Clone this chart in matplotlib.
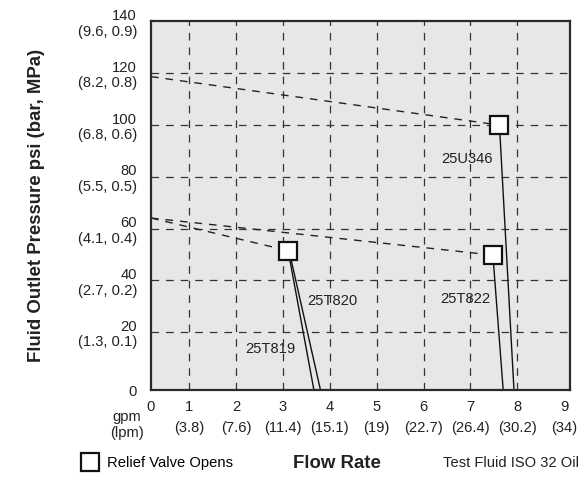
import matplotlib.pyplot as plt
from matplotlib.lines import Line2D

plt.rcParams['font.family'] = ['Liberation Sans', 'DejaVu Sans']
plt.rcParams['lines.scale_dashes'] = False

#--- DATA (in grid coordinates)

# axis extents as drawn in the original chart
X_LO, X_HI = 0.183, 9.125
Y_LO, Y_HI = -2.3, 140.3

gpm_ticks = [0, 1, 2, 3, 4, 5, 6, 7, 8, 9]
lpm_labels = ['', '3.8', '7.6', '11.4', '15.1', '19', '22.7', '26.4', '30.2', '34']
psi_ticks = [0, 20, 40, 60, 80, 100, 120, 140]
bar_mpa_labels = ['', '1.3, 0.1', '2.7, 0.2', '4.1, 0.4', '5.5, 0.5',
                  '6.8, 0.6', '8.2, 0.8', '9.6, 0.9']

# relief valve opening points (gpm, psi)
valve_flow = [7.62, 3.11, 7.48]
valve_psi = [100.0, 51.5, 49.8]

# dashed curves: from no-flow pressure to the opening point
dash_start_flow = [X_LO, X_LO, X_LO]
dash_start_psi = [118.7, 64.1, 64.1]
dash_end_flow = [7.62, 3.11, 7.48]
dash_end_psi = [100.0, 51.5, 49.8]

# solid curves: from the opening point down to zero pressure
models = ['25U346', '25T819', '25T820', '25T822']
solid_top_flow = [7.62, 3.11, 3.13, 7.48]
solid_top_psi = [100.0, 51.5, 51.5, 49.8]
solid_end_flow = [7.93, 3.66, 3.80, 7.70]
solid_end_psi = [-2.3, -2.3, -2.3, -2.3]

label_flow = [6.93, 2.74, 4.06, 6.89]
label_psi = [86.8, 13.5, 32.1, 32.7]

#--- STYLE
TICK_SIZE = 10.6
TITLE_SIZE = 13.4
DASH = (5.5, 5.0)


def main():
    fig = plt.figure(figsize=(5.81, 4.78), dpi=100)
    ax = fig.add_axes([0.2599, 0.1841, 0.981 - 0.2599, 0.9567 - 0.1841])
    ax.set_facecolor('#e6e7e9')
    for sp in ax.spines.values():
        sp.set_linewidth(1.6)
        sp.set_color('#2a2a2a')

    # grid (drawn over the labels like in the original)
    for gx in gpm_ticks[1:-1]:
        ax.axvline(gx, color='#333333', lw=0.9, dashes=DASH, zorder=1.5)
    for gy in psi_ticks[1:-1]:
        ax.axhline(gy, color='#333333', lw=0.9, dashes=DASH, zorder=1.5)

    for i in range(len(dash_start_psi)):
        ax.plot([dash_start_flow[i], dash_end_flow[i]], [dash_start_psi[i], dash_end_psi[i]],
                color='#222222', lw=1.0, dashes=DASH, zorder=2)

    for i in range(len(models)):
        ax.plot([solid_top_flow[i], solid_end_flow[i]], [solid_top_psi[i], solid_end_psi[i]],
                color='#111111', lw=1.0, zorder=2, solid_capstyle='butt')
        ax.text(label_flow[i], label_psi[i], models[i], fontsize=TICK_SIZE,
                ha='center', va='center', color='#222222', zorder=1)

    ax.plot(valve_flow, valve_psi, 's', ms=12.5, mfc='white', mec='#111111', mew=1.6,
            zorder=4, clip_on=False)

    ax.set_xlim(X_LO, X_HI)
    ax.set_ylim(Y_LO, Y_HI)

    xpos = [X_LO] + gpm_ticks[1:]
    xlabels = ['%d\n(%s)' % (g, l) if l else '%d' % g for g, l in zip(gpm_ticks, lpm_labels)]
    ax.set_xticks(xpos)
    ax.set_xticklabels(xlabels, fontsize=TICK_SIZE, color='#222222')
    for lbl in ax.get_xticklabels():
        lbl.set_linespacing(1.65)

    ypos = [Y_LO] + psi_ticks[1:]
    ylabels = ['%d\n(%s)' % (p, b) if b else '%d' % p for p, b in zip(psi_ticks, bar_mpa_labels)]
    ax.set_yticks(ypos)
    ax.set_yticklabels(ylabels, fontsize=TICK_SIZE, color='#222222', multialignment='right')
    for lbl in ax.get_yticklabels():
        lbl.set_linespacing(1.15)

    ax.tick_params(axis='both', length=0)
    ax.tick_params(axis='x', pad=7)
    ax.tick_params(axis='y', pad=10)

    ax.set_ylabel('Fluid Outlet Pressure psi (bar, MPa)', fontsize=TITLE_SIZE,
                  fontweight='bold', color='#222222')
    ax.yaxis.set_label_coords(-0.253, 0.5)

    fig.text(127 / 581, 1 - 425 / 478, 'gpm\n(lpm)', fontsize=TICK_SIZE, ha='center',
             va='center', linespacing=1.1, color='#222222')
    fig.text(337 / 581, 1 - 464 / 478, 'Flow Rate', fontsize=TITLE_SIZE, fontweight='bold',
             ha='center', va='center', color='#222222')
    fig.text(511 / 581, 1 - 463 / 478, 'Test Fluid ISO 32 Oil', fontsize=TICK_SIZE,
             ha='center', va='center', color='#222222')

    handle = Line2D([], [], ls='none', marker='s', ms=12.5, mfc='white', mec='#111111', mew=1.6)
    fig.legend([handle], ['Relief Valve Opens'], loc='center left',
               bbox_to_anchor=(83 / 581, 1 - 463 / 478), frameon=False,
               fontsize=TICK_SIZE, handlelength=1.0, handletextpad=0.6, borderpad=0,
               borderaxespad=0)

    fig.savefig('out.png', dpi=100)


if __name__ == '__main__':
    main()
